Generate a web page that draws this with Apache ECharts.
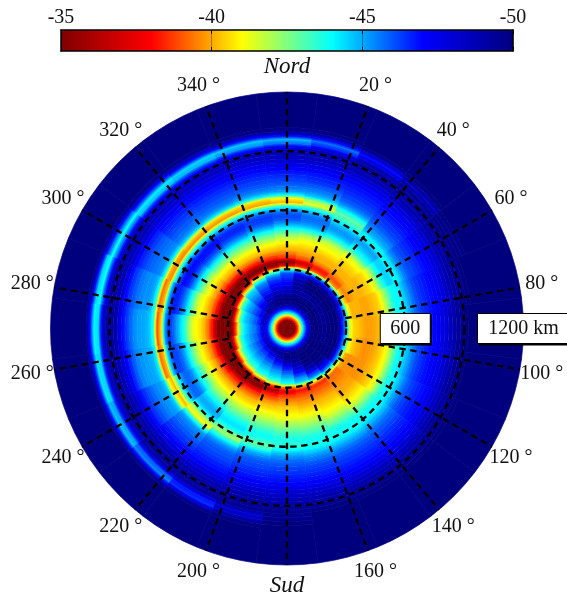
<!DOCTYPE html>
<html><head><meta charset="utf-8">
<style>html,body{margin:0;padding:0;background:#fff}#c{width:567px;height:599px}</style>
<script src="https://cdn.jsdelivr.net/npm/echarts@6/dist/echarts.min.js"></script>
</head><body><div id="c"></div>
<script>
// radial step of the table, km; 1200 km is the rim
const radialStepKm = 20;
// values for the innermost samples (0..100 km), the same at every angle
const coreValues = [-34,-34,-35,-39,-44.5,-48];
// sector centres, degrees
const sectorAngles = [0,15,30,45,60,75,90,105,120,135,150,165,180,195,210,225,240,255,270,285,300,315,330,345];
// radial profiles from 120 km outwards, dB; anything further out is -50
const row0   = [-49.6,-50,-50,-49,-49,-48.5,-48,-47.5,-47,-44,-36.5,-35,-37.5,-38.5,-39.5,-40,-40.8,-41.5,-42.5,-43.8,-45,-46.2,-47,-47,-46,-44,-39.5,-40.5,-44.5,-46,-46.5,-47,-47.3,-47.6,-48,-48.3,-48.6,-48.9,-49.2,-49.2,-48.5,-46.5,-45.5,-48.5,-49.7];
const row15  = [-49.6,-50,-50,-49.5,-49.5,-49.5,-49.5,-49,-48.5,-45,-37.5,-36,-38,-39,-39.5,-40,-40.5,-41,-42,-43.5,-45,-46,-46.5,-46.5,-45.5,-44,-41,-42,-45,-46,-46.5,-47,-47.5,-47.7,-48,-48.3,-48.6,-49,-49.2,-49.3,-49,-47.5,-46.5,-48.5,-49.8];
const row30  = [-49.7,-50,-50,-49.5,-49.5,-50,-50,-50,-49,-46,-38,-37,-38.5,-39.5,-39.5,-40,-40.5,-41,-41.5,-43,-44.5,-45.5,-46,-45.5,-44.5,-43.5,-43,-44,-45.5,-46.5,-47,-47.3,-47.6,-47.8,-48,-48.3,-48.6,-49,-49.3,-49.5,-49.5,-48.8,-48,-49.2];
const row45  = [-49.7,-50,-50,-49.7,-49.7,-50,-50,-50,-49,-46.5,-39,-38,-38.8,-39.5,-39.5,-39.8,-40,-40.5,-41,-42.5,-44,-44.8,-45.5,-45.8,-44.5,-44.5,-45.5,-46,-46.5,-47,-47.3,-47.5,-47.8,-48,-48.2,-48.5,-48.8,-49.2,-49.4,-49.6,-49.7,-49.5,-49,-49.7];
const row60  = [-49.7,-50,-50,-49.7,-49.7,-50,-50,-50,-49,-46.5,-40,-38.8,-39.2,-39.5,-39.5,-39.5,-39.8,-40,-40.5,-41.5,-43,-44.3,-45,-45,-44.3,-44.8,-45.8,-46.5,-47,-47.2,-47.5,-47.7,-48,-48.2,-48.4,-48.7,-49,-49.3,-49.5,-49.7,-49.8,-49.9,-49.8];
const row75  = [-49.7,-50,-50,-49.7,-49.7,-50,-50,-50,-48.5,-46,-41,-39.5,-39.5,-39.5,-39.3,-39.3,-39.5,-39.7,-40,-40.8,-42,-43.2,-44.2,-44.4,-44.6,-45.3,-46,-46.7,-47.2,-47.5,-47.7,-47.9,-48.1,-48.3,-48.5,-48.8,-49.1,-49.4,-49.6,-49.8,-49.9];
const row90  = [-49.7,-50,-50,-49.8,-49.8,-50,-50,-50,-48,-45.5,-41,-40,-39.8,-39.5,-39.2,-39.2,-39.3,-39.5,-39.8,-40.3,-41.2,-42.5,-43.8,-44.4,-44.8,-45.5,-46.2,-46.8,-47.2,-47.6,-47.8,-48,-48.2,-48.4,-48.6,-48.9,-49.2,-49.5,-49.7,-49.9];
const row105 = [-49.7,-50,-50,-49.8,-49.8,-50,-50,-50,-47.8,-45,-41,-40,-39.5,-39.3,-39,-39,-39.2,-39.4,-39.8,-40.3,-41,-42.2,-43.5,-44.3,-44.7,-45.3,-46,-46.7,-47.2,-47.5,-47.8,-48,-48.2,-48.4,-48.6,-48.9,-49.2,-49.5,-49.7,-49.9];
const row120 = [-49.7,-50,-50,-50,-50,-50,-50,-49.7,-47.5,-44.5,-39.5,-39,-39,-39,-39,-39,-39.2,-39.5,-39.8,-40.3,-41,-42.3,-43.5,-44.2,-44.4,-45,-45.8,-46.5,-47,-47.3,-47.6,-47.8,-48,-48.2,-48.5,-48.8,-49.1,-49.4,-49.6,-49.8,-49.9];
const row135 = [-49.7,-50,-50,-50,-50,-50,-49.5,-48.5,-47,-43,-38.5,-38.5,-38.7,-39,-39.2,-39.3,-39.6,-40,-40.4,-41,-41.8,-42.8,-43.8,-44.3,-44.3,-44.8,-45.5,-46.2,-46.7,-47,-47.3,-47.6,-47.8,-48,-48.3,-48.6,-48.9,-49.2,-49.5,-49.7,-49.9];
const row150 = [-49.7,-50,-50,-50,-50,-49.5,-49,-47.5,-46,-41,-37.5,-38,-38.5,-39,-39.5,-39.8,-40.2,-40.6,-41,-41.7,-42.5,-43.2,-44,-44.3,-44.2,-44.6,-45.3,-46,-46.6,-47,-47.3,-47.5,-47.8,-48,-48.3,-48.6,-48.9,-49.2,-49.5,-49.7,-49.9];
const row165 = [-49.7,-50,-49.9,-49.5,-49,-48.5,-47.5,-46,-45,-39.5,-37,-37.8,-38.5,-39,-39.5,-40,-40.4,-41,-41.6,-42.2,-42.8,-43.4,-44,-44.2,-44,-44.5,-45.2,-46,-46.5,-47,-47.3,-47.5,-47.8,-48,-48.3,-48.6,-48.9,-49.2,-49.4,-49.6,-49.8];
const row180 = [-49.7,-50,-49.7,-49,-48,-47,-46,-45,-44,-38.5,-36.5,-37.5,-38.5,-39.2,-39.8,-40.2,-40.6,-41,-41.8,-42.3,-43,-43.6,-44,-44,-43.7,-44.5,-45.5,-46.2,-46.7,-47,-47.3,-47.5,-47.8,-48,-48.3,-48.6,-48.9,-49.1,-49.3,-49.5,-49.7,-49.8,-49.7,-49.9];
const row195 = [-49.7,-49.5,-49,-48,-47,-46,-45.3,-44.5,-42.5,-37.5,-35.5,-37,-38,-39,-39.7,-40.2,-40.8,-41.3,-42,-42.7,-43.4,-44,-44.3,-43.8,-43,-43.5,-45,-46,-46.7,-47,-47.2,-47.5,-47.7,-48,-48.3,-48.6,-48.9,-49.2,-49.4,-49.6,-49.7,-49.6,-48.8,-49,-49.8];
const row210 = [-49.7,-49,-48,-47.2,-46.3,-45.5,-44.8,-44,-41,-36,-34.8,-36,-37.5,-38.5,-39.5,-40,-40.7,-41.5,-42.2,-43,-43.8,-44.5,-44.8,-44.2,-42.8,-42,-43.8,-45.3,-46.3,-46.8,-47,-47.2,-47.5,-47.8,-48,-48.4,-48.8,-49.1,-49.4,-49.6,-49.6,-49.2,-47.8,-47.5,-49.3];
const row225 = [-49.5,-48.5,-47.5,-46.8,-46,-45.2,-44.3,-43,-39.5,-35,-34.3,-35.5,-37,-38.2,-39.3,-40,-40.8,-41.6,-42.5,-43.5,-44.5,-45.3,-45.7,-45.2,-43.8,-41.5,-40.7,-44,-45.8,-46.3,-46.6,-47,-47.3,-47.6,-48,-48.4,-48.8,-49.2,-49.5,-49.6,-49.6,-49,-46.8,-46.2,-48.8];
const row240 = [-49.3,-48,-47.2,-46.5,-45.8,-45,-44,-42,-38,-34.5,-34,-35,-36.5,-38,-39.2,-40,-40.8,-41.8,-43,-44,-45.3,-46.3,-46.7,-46.5,-45.3,-42.8,-39.5,-40.8,-45,-45.8,-46,-46.3,-46.7,-47.1,-47.6,-48.2,-48.8,-49.2,-49.5,-49.6,-49.4,-48.5,-45.8,-45.3,-48.5];
const row255 = [-49,-47.7,-46.8,-46.2,-45.5,-44.8,-43.5,-40,-36,-34,-34,-34.8,-36,-37.5,-38.8,-39.7,-40.4,-41.2,-42.2,-43.4,-44.8,-46,-46.8,-47.2,-47,-45,-39.5,-38.5,-44.5,-45.5,-45.7,-45.8,-46,-46.3,-47,-47.8,-48.5,-49,-49.4,-49.5,-49.4,-48.5,-45,-44.8,-48.3];
const row270 = [-49,-47.5,-46.5,-46,-45.3,-44.5,-42.5,-38,-35,-34,-34,-34.5,-35.5,-37,-38.5,-39.5,-40.2,-40.6,-41,-42.3,-43.8,-44.8,-45.8,-46.8,-47.5,-46,-40,-38,-44,-45.2,-45.6,-45.7,-45.8,-46.2,-46.8,-47.5,-48.2,-49,-49.5,-49.6,-49.5,-48.5,-44.8,-44.5,-48];
const row285 = [-49.3,-48,-47,-46.3,-45.6,-45,-43.5,-39.5,-35.5,-34.2,-34.2,-35,-36.3,-37.8,-39,-39.8,-40.5,-41,-42,-43.5,-45,-46.3,-47.3,-47.8,-47.5,-45.5,-39.5,-38.5,-43.8,-45.5,-46,-46,-46.2,-46.5,-47,-47.5,-48.3,-49,-49.4,-49.5,-49.3,-47.5,-44.3,-45,-48.5];
const row300 = [-49.5,-48.5,-47.7,-47,-46.2,-45.5,-44.5,-42,-37,-34.8,-34.4,-35.2,-36.5,-38,-39.2,-40,-40.8,-41.8,-43,-44.5,-46,-47.3,-48,-48,-46.5,-44,-38.8,-39.5,-44.5,-46,-46.3,-46.5,-46.7,-47,-47.4,-47.8,-48.5,-49,-49.3,-49.3,-48.8,-46.5,-44.2,-46.5,-49];
const row315 = [-49.8,-49.3,-48.5,-48,-47,-46.3,-45.5,-44.8,-40,-36,-34.5,-35.2,-36.7,-38.3,-39.5,-40.2,-41,-42.3,-43.5,-45,-46.5,-47.5,-48,-47.8,-46,-43.5,-38.8,-40,-45,-46.2,-46.6,-46.9,-47.2,-47.5,-47.8,-48.1,-48.5,-48.9,-49.2,-49.1,-48,-45.3,-44.6,-47.5,-49.5];
const row330 = [-49.7,-49.8,-49.3,-49,-48,-47.5,-46.8,-46,-43.5,-38.5,-34.8,-35.3,-37,-38.5,-39.7,-40.3,-41.2,-42.3,-43.3,-44.8,-46.2,-47.2,-47.7,-47.4,-46,-43.5,-39,-40,-44.8,-46.2,-46.7,-47,-47.3,-47.6,-47.9,-48.2,-48.5,-48.8,-49.1,-49,-47.8,-45.5,-45,-48,-49.6];
const row345 = [-49.7,-50,-49.7,-49.3,-48.8,-48.3,-47.8,-47,-45.5,-41.5,-35.5,-35.2,-37.2,-38.5,-39.6,-40.2,-41,-42,-43,-44.3,-45.7,-46.8,-47.3,-47.2,-46,-43.8,-39.2,-40,-44.6,-46,-46.6,-47,-47.3,-47.6,-47.9,-48.2,-48.5,-48.8,-49.1,-49.1,-48.2,-46,-45.2,-48.2,-49.7];
const profiles = [row0,row15,row30,row45,row60,row75,row90,row105,row120,row135,row150,row165,row180,row195,row210,row225,row240,row255,row270,row285,row300,row315,row330,row345];

// dashed grid
const spokeAngles = [0,20,40,60,80,100,120,140,160,180,200,220,240,260,280,300,320,340];
// angle labels
const angleLabels = [[20,'20 °'],[40,'40 °'],[60,'60 °'],[80,'80 °'],[100,'100 °'],[120,'120 °'],[140,'140 °'],[160,'160 °'],[200,'200 °'],[220,'220 °'],[240,'240 °'],[260,'260 °'],[280,'280 °'],[300,'300 °'],[320,'320 °'],[340,'340 °']];
const poleLabels = [[0,'Nord'],[180,'Sud']];
const rangeLabels = [[600,90,'600'],[1200,90,'1200 km']];
const colourbarRange = [-50,-35];
const colourbarStep = 5;

const jetStops = ['#00007f','#0000ff','#00ffff','#ffff00','#ff0000','#7f0000'];
const jetPos = [0,0.125,0.375,0.625,0.875,1];
function hex(c){return [1,3,5].map(i=>parseInt(c.substr(i,2),16));}
function jet(v){
  const t=Math.max(0,Math.min(1,(v+50)/15));
  let i=0; while(i<jetPos.length-2 && t>jetPos[i+1]) i++;
  const f=(t-jetPos[i])/(jetPos[i+1]-jetPos[i]);
  const a=hex(jetStops[i]),b=hex(jetStops[i+1]);
  return 'rgb('+a.map((x,k)=>Math.round(x+(b[k]-x)*f)).join(',')+')';
}
const cells=[];
profiles.forEach((p,k)=>{
  const full=coreValues.concat(p);
  const a=sectorAngles[k];
  for(let i=0;i<full.length;i++){
    const nxt=i+1<full.length?full[i+1]:-50;
    cells.push([i*radialStepKm,(i+1)*radialStepKm,a-7.5,a+7.5,full[i],nxt]);
  }
  cells.push([full.length*radialStepKm,1200,a-7.5,a+7.5,-50,-50]);
});
function renderHeat(params,api){
  const cx=params.coordSys.cx,cy=params.coordSys.cy;
  const a0=api.value(2),a1=api.value(3),v0=api.value(4),v1=api.value(5);
  const pA=api.coord([api.value(1),a0]),pB=api.coord([api.value(1),a1]),pC=api.coord([api.value(0),a0]);
  const R=Math.hypot(pA[0]-cx,pA[1]-cy),R0=Math.hypot(pC[0]-cx,pC[1]-cy);
  let s=Math.atan2(pA[1]-cy,pA[0]-cx),e=Math.atan2(pB[1]-cy,pB[0]-cx);
  if(e<s)e+=Math.PI*2;
  const stops=[];
  for(let i=0;i<=4;i++){
    stops.push({offset:Math.min(1,(R0+(R-R0)*i/4)/R),color:jet(v0+(v1-v0)*i/4)});
  }
  const grad={type:'radial',x:cx,y:cy,r:R,global:true,colorStops:stops};
  return {type:'sector',shape:{cx,cy,r0:R0,r:R,startAngle:s,endAngle:e,clockwise:true},
    style:{fill:grad,stroke:grad,lineWidth:0.7}};
}
function renderSpoke(params,api){
  const a=api.value(0),p=api.coord([300,a]),q=api.coord([1200,a]);
  return {type:'line',shape:{x1:p[0],y1:p[1],x2:q[0],y2:q[1]},
    style:{stroke:'#000',lineWidth:2.3,lineDash:[6.5,4.5],fill:null}};
}
const labelFont='20px "Liberation Serif"';
function renderAngleLabel(params,api){
  const p=api.coord([1312,api.value(0)]);
  return {type:'text',x:p[0],y:p[1],style:{text:angleLabels[params.dataIndex][1],font:labelFont,fill:'#111',align:'center',verticalAlign:'middle'}};
}
function renderPole(params,api){
  const p=api.coord([api.value(0)===0?1327:1307,api.value(0)]);
  return {type:'text',x:p[0],y:p[1],style:{text:poleLabels[params.dataIndex][1],font:'italic 23px "Liberation Serif"',fill:'#111',align:'center',verticalAlign:'middle'}};
}
function renderRange(params,api){
  const p=api.coord([api.value(0),api.value(1)]);
  const t=rangeLabels[params.dataIndex][2];
  const w=t.length>4?92:50;
  return {type:'group',children:[
    {type:'rect',shape:{x:p[0]-w/2+1.5,y:p[1]-14,width:w,height:31},style:{fill:'#000'}},
    {type:'rect',shape:{x:p[0]-w/2,y:p[1]-15,width:w,height:30},style:{fill:'#fff',stroke:'#000',lineWidth:1}},
    {type:'text',x:p[0],y:p[1],style:{text:t,font:labelFont,fill:'#111',align:'center',verticalAlign:'middle'}}
  ]};
}
const chart=echarts.init(document.getElementById('c'),null,{renderer:'canvas'});
const barAxis=(pos,showLabel)=>({type:'value',gridIndex:0,position:pos,inverse:true,min:colourbarRange[0],max:colourbarRange[1],interval:colourbarStep,z:6,
    axisLine:{show:true,onZero:false,lineStyle:{color:'#000',width:1.5}},
    axisTick:{show:true,inside:true,length:4,lineStyle:{color:'#000',width:1}},
    axisLabel:{show:showLabel,margin:2,fontFamily:'Liberation Serif',fontSize:20,color:'#111',showMinLabel:true,showMaxLabel:true},
    splitLine:{show:showLabel,lineStyle:{color:'rgba(0,0,0,0.3)',width:1}}});
chart.setOption({
  animation:false,backgroundColor:'#fff',
  polar:{center:[287,328.5],radius:236.5},
  angleAxis:{type:'value',min:0,max:360,startAngle:90,clockwise:true,interval:20,
    axisLine:{show:false},axisTick:{show:false},axisLabel:{show:false},splitLine:{show:false}},
  radiusAxis:{type:'value',min:0,max:1200,interval:300,z:5,
    axisLine:{show:false},axisTick:{show:false},axisLabel:{show:false},
    splitLine:{show:true,lineStyle:{color:['transparent','#000','#000','#000','transparent'],width:2.3,type:[6.5,4.5]}}},
  grid:{left:61,top:30,width:452,height:21,show:false,containLabel:false},
  xAxis:[barAxis('top',true),barAxis('bottom',false)],
  yAxis:[{type:'value',gridIndex:0,position:'left',min:0,max:1,z:6,splitLine:{show:false},axisTick:{show:false},axisLabel:{show:false},
    axisLine:{show:true,onZero:false,lineStyle:{color:'#000',width:1.5}}},
    {type:'value',gridIndex:0,position:'right',min:0,max:1,z:6,splitLine:{show:false},axisTick:{show:false},axisLabel:{show:false},
    axisLine:{show:true,onZero:false,lineStyle:{color:'#000',width:1.5}}}],
  visualMap:{type:'continuous',orient:'horizontal',left:61,top:30,padding:0,itemWidth:21,itemHeight:452,min:-50,max:-35,
    inverse:true,calculable:false,hoverLink:false,text:null,showLabel:false,seriesIndex:0,dimension:4,z:1,
    inRange:{color:jetStops},textStyle:{fontSize:0},formatter:()=>'' },
  series:[
    {type:'custom',coordinateSystem:'polar',z:1,silent:true,clip:false,data:cells,renderItem:renderHeat,
      dimensions:['r0','r1','a0','a1','v0','v1'],encode:{radius:0,angle:2}},
    {type:'custom',coordinateSystem:'polar',z:6,silent:true,data:spokeAngles.map(a=>[a]),renderItem:renderSpoke,encode:{angle:0}},
    {type:'custom',coordinateSystem:'polar',z:7,silent:true,data:angleLabels.map(l=>[l[0]]),renderItem:renderAngleLabel,encode:{angle:0}},
    {type:'custom',coordinateSystem:'polar',z:7,silent:true,data:poleLabels.map(l=>[l[0]]),renderItem:renderPole,encode:{angle:0}},
    {type:'custom',coordinateSystem:'polar',z:8,silent:true,data:rangeLabels.map(l=>[l[0],l[1]]),renderItem:renderRange,encode:{radius:0,angle:1}}
  ]
});
</script></body></html>
